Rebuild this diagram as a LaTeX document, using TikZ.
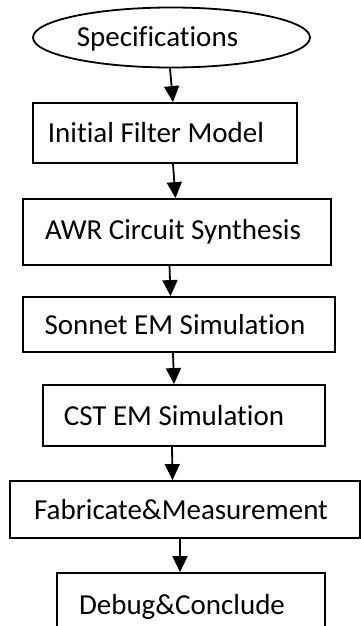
\documentclass[tikz,border=0pt]{standalone}
\usepackage{fontspec}
\setmainfont{Carlito}[Ligatures=NoCommon]
\usetikzlibrary{arrows.meta,shapes.geometric}

\tikzset{
    box/.style={draw, line width=1.8pt, inner sep=0pt},
    flow/.style={-{Triangle[width=15pt,length=16pt]}, line width=1.8pt}
}

\begin{document}
\begin{tikzpicture}[x=1pt, y=-1pt, font=\fontsize{29}{35}\selectfont]
        \useasboundingbox (0,0) rectangle (361,626);
        \node[box, ellipse, minimum width=277pt, minimum height=60pt,
            label={[xshift=-14pt,yshift=-1pt]center:Specifications}] (spec) at (171.5,37.5) {};
        \node[box, minimum width=264pt, minimum height=60pt,
            label={[xshift=-9pt]center:Initial Filter Model}] (init) at (165,133) {};
        \node[box, minimum width=308pt, minimum height=66pt,
            label={[xshift=-4pt]center:AWR Circuit Synthesis}] (awr) at (177,232) {};
        \node[box, minimum width=312pt, minimum height=55pt,
            label={[xshift=-4pt]center:Sonnet EM Simulation}] (sonnet) at (179,324.5) {};
        \node[box, minimum width=282pt, minimum height=61pt,
            label={[xshift=-10pt]center:CST EM Simulation}] (cst) at (184,415.5) {};
        \node[box, minimum width=350pt, minimum height=57pt,
            label={[xshift=-4pt]center:Fabricate\&Measurement}] (fab) at (185,509.5) {};
        \node[box, minimum width=268pt, minimum height=67pt,
            label={[xshift=-9pt]center:Debug\&Conclude}] (debug) at (191,606.5) {};
        \draw[flow] ([xshift=-1.5pt]spec.south) -- ([xshift=8pt]init.north);
        \draw[flow] ([xshift=8pt]init.south) -- ([xshift=-1.5pt]awr.north);
        \draw[flow] ([xshift=-7.5pt]awr.south) -- ([xshift=-8.5pt]sonnet.north);
        \draw[flow] ([xshift=-6pt]sonnet.south) -- ([xshift=-10pt]cst.north);
        \draw[flow] ([xshift=-12pt]cst.south) -- ([xshift=-12.5pt]fab.north);
        \draw[flow] ([xshift=-5pt]fab.south) -- ([xshift=-11pt]debug.north);
    \end{tikzpicture}
\end{document}
